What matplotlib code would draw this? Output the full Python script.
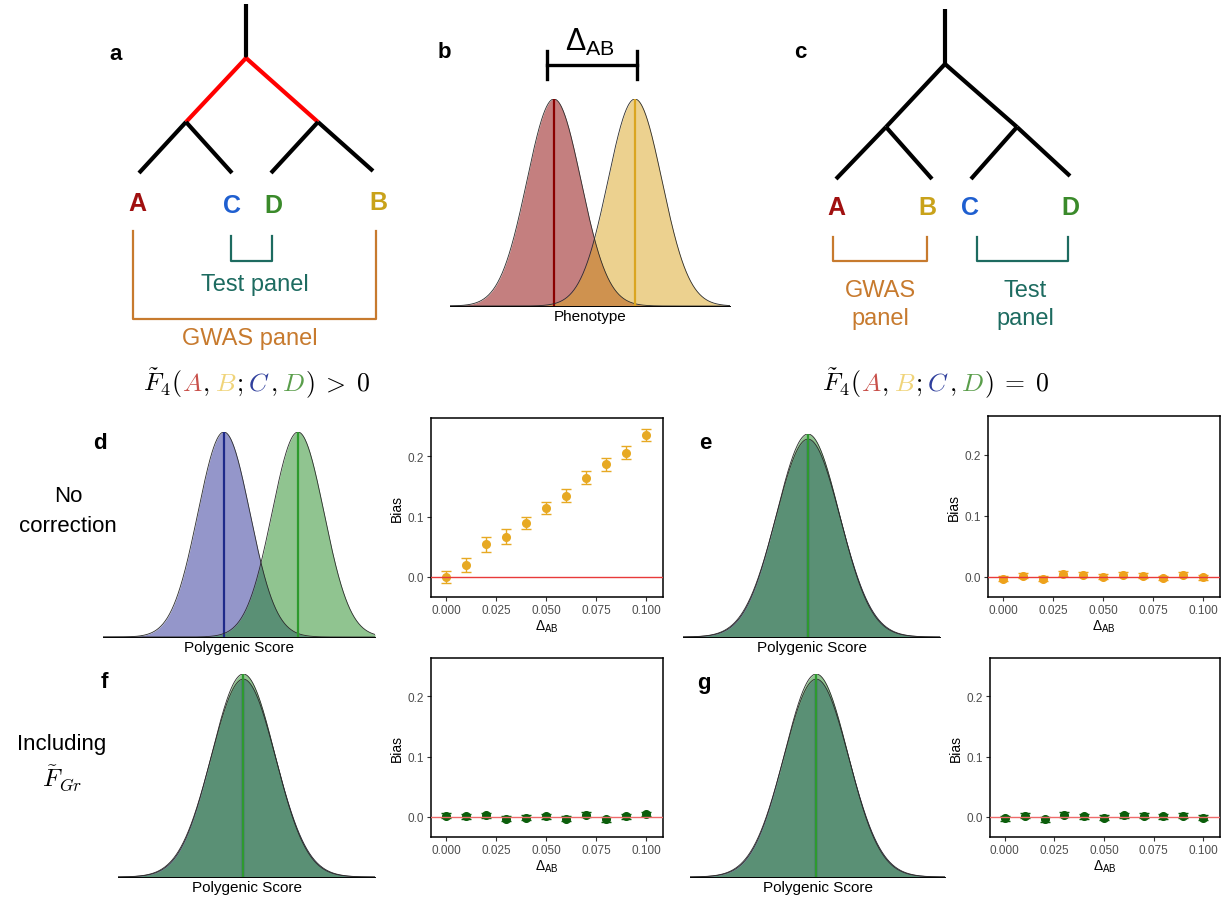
import matplotlib
matplotlib.use("Agg")
import matplotlib.pyplot as plt
import numpy as np

plt.rcParams['font.family'] = ['Liberation Sans', 'DejaVu Sans']
plt.rcParams['mathtext.fontset'] = 'custom'
plt.rcParams['mathtext.rm'] = 'Liberation Sans'
plt.rcParams['mathtext.it'] = 'Liberation Sans:italic'
plt.rcParams['mathtext.bf'] = 'Liberation Sans:bold'

W, H = 1226, 904

# simulated bias vs Delta_AB
delta_ab = [0.0, 0.01, 0.02, 0.03, 0.04, 0.05, 0.06, 0.07, 0.08, 0.09, 0.10]
bias_d = [0.000, 0.020, 0.054, 0.067, 0.090, 0.114, 0.135, 0.165, 0.187, 0.206, 0.236]
err_d = [0.010, 0.011, 0.012, 0.012, 0.010, 0.010, 0.011, 0.011, 0.011, 0.011, 0.010]
bias_e = [-0.003, 0.002, -0.003, 0.005, 0.003, 0.000, 0.003, 0.002, -0.002, 0.003, -0.001]
err_e = [0.004] * 11
bias_f = [0.002, 0.001, 0.003, -0.003, -0.001, 0.001, -0.003, 0.004, -0.004, 0.001, 0.005]
err_f = [0.004] * 11
bias_g = [-0.002, 0.002, -0.004, 0.004, 0.001, -0.001, 0.003, 0.002, 0.001, 0.002, -0.001]
err_g = [0.004] * 11

# distributions: mean, sd (in sd units) and peak height
pheno_mean = [0.0, 3.0]      # A, B
pheno_sd = [1.0, 1.0]
pheno_peak = [1.0, 1.0]
pgs_mean_d = [0.0, 2.85]     # C, D without correction
pgs_sd_d = [1.0, 1.0]
pgs_peak_d = [1.0, 1.0]
pgs_mean_null = [0.0, 0.0]
pgs_sd_null = [1.0, 0.98]
pgs_peak_null = [0.975, 1.0]

# tree diagrams (pixel positions)
tree_a = {'top': (246, 5), 'root': (246, 59), 'L': (186, 123), 'R': (318, 123),
          'l1': (139, 174), 'l2': (232, 174), 'r1': (271, 174), 'r2': (373, 172)}
tree_c = {'top': (945, 10), 'root': (945, 65), 'L': (886, 128), 'R': (1017, 128),
          'l1': (836, 180), 'l2': (932, 180), 'r1': (971, 180), 'r2': (1070, 177)}

col_A, col_B, col_C, col_D = '#a01010', '#c9a21a', '#1f5fd0', '#3a8a2a'
col_gwas, col_test = '#c77a2e', '#1d6b60'

fig = plt.figure(figsize=(12.26, 9.04), dpi=100)
ov = fig.add_axes([0, 0, 1, 1])
ov.set_xlim(0, W)
ov.set_ylim(H, 0)
ov.axis('off')
renderer = fig.canvas.get_renderer()


def rect(x0, y0, x1, y1):
    return [x0 / W, 1 - y1 / H, (x1 - x0) / W, (y1 - y0) / H]


def draw_tree(t, red_top):
    segs = [('top', 'root'), ('root', 'L'), ('root', 'R'), ('L', 'l1'), ('L', 'l2'),
            ('R', 'r1'), ('R', 'r2')]
    for a, b in segs:
        c = 'red' if (red_top and a == 'root') else 'black'
        ov.plot([t[a][0], t[b][0]], [t[a][1], t[b][1]], color=c, lw=3,
                solid_capstyle='butt')


def bracket(x0, x1, y0, y1, color):
    ov.plot([x0, x0, x1, x1], [y0, y1, y1, y0], color=color, lw=1.6)


# panel a
draw_tree(tree_a, True)
for lab, (x, y), c in [('A', (137, 204), col_A), ('C', (232, 206), col_C),
                       ('D', (273, 206), col_D), ('B', (378, 203), col_B)]:
    ov.text(x, y, lab, color=c, fontsize=18, fontweight='bold', ha='center', va='center')
bracket(231, 272, 237, 262, col_test)
ov.text(255, 285, 'Test panel', color=col_test, fontsize=17, ha='center', va='center')
bracket(133, 376, 232, 320, col_gwas)
ov.text(250, 339, 'GWAS panel', color=col_gwas, fontsize=17, ha='center', va='center')

# panel c
draw_tree(tree_c, False)
for lab, (x, y), c in [('A', (836, 208), col_A), ('B', (927, 208), col_B),
                       ('C', (970, 208), col_C), ('D', (1070, 208), col_D)]:
    ov.text(x, y, lab, color=c, fontsize=18, fontweight='bold', ha='center', va='center')
bracket(833, 927, 238, 262, col_gwas)
bracket(977, 1068, 238, 262, col_test)
ov.text(880, 305, 'GWAS\npanel', color=col_gwas, fontsize=17, ha='center', va='center',
        linespacing=1.3)
ov.text(1025, 305, 'Test\npanel', color=col_test, fontsize=17, ha='center', va='center',
        linespacing=1.3)

# panel letters
for lab, x, y in [('a', 116, 55), ('b', 444, 52), ('c', 800, 53), ('d', 100, 444),
                  ('e', 705, 444), ('f', 104, 683), ('g', 704, 684)]:
    ov.text(x, y, lab, fontsize=16, fontweight='bold', ha='center', va='center')

# Delta_AB bracket in b
ov.plot([547, 547], [52, 80], color='black', lw=2.4)
ov.plot([637, 637], [52, 80], color='black', lw=2.4)
ov.plot([547, 637], [66, 66], color='black', lw=2.4)
ov.text(590, 42, r'$\Delta_{\mathrm{AB}}$', fontsize=22, ha='center', va='center')

# row labels
ov.text(68, 497, 'No', fontsize=16, ha='center', va='center')
ov.text(68, 527, 'correction', fontsize=16, ha='center', va='center')
ov.text(62, 745, 'Including', fontsize=16, ha='center', va='center')
ov.text(62, 778, r'$\tilde{F}_{Gr}$', fontsize=18, ha='center', va='center',
        math_fontfamily='cm')


def formula(x, y, rhs):
    # pieces: text, colour, gap after (px)
    parts = [(r'$\tilde{F}_4($', 'black', 0), (r'$A$', '#c8504a', 0), (r'$,$', 'black', 5),
             (r'$B$', '#f0d47a', 0), (r'$;$', 'black', 5), (r'$C$', '#2f3f9c', 0),
             (r'$,$', 'black', 5), (r'$D$', '#5a9e4b', 0), (rhs, 'black', 0)]
    cur = x
    for s, c, gap in parts:
        t = ov.text(cur, y, s, color=c, fontsize=18.5, math_fontfamily='cm',
                    ha='left', va='baseline')
        cur += t.get_window_extent(renderer).width + gap


formula(143, 391, r'$)\;>\;0$')
formula(822, 391, r'$)\;=\;0$')


def density_panel(px, xlim, means, sds, peaks, fills, lines, xlabel):
    ax = fig.add_axes(rect(*px))
    xs = np.linspace(xlim[0], xlim[1], 500)
    for m, s, h, fc, lc in zip(means, sds, peaks, fills, lines):
        ys = h * np.exp(-0.5 * ((xs - m) / s) ** 2)
        ax.fill_between(xs, ys, color=fc, alpha=0.5, lw=0)
        ax.plot(xs, ys, color='#2b2b2b', lw=0.6)
        ax.vlines(m, 0, h, color=lc, lw=1.6)
    ax.set_xlim(xlim)
    ax.set_ylim(0, 1.0)
    for s in ['top', 'right', 'left']:
        ax.spines[s].set_visible(False)
    ax.spines['bottom'].set_linewidth(0.7)
    ax.set_xticks([])
    ax.set_yticks([])
    ax.patch.set_alpha(0)
    ax.set_xlabel(xlabel, fontsize=11, labelpad=2)
    return ax


density_panel((450, 100, 730, 307), (-3.85, 6.52), pheno_mean, pheno_sd, pheno_peak,
              ['#8b0000', '#daa520'], ['#8b0000', '#daa520'], 'Phenotype')
density_panel((103, 433, 375, 638), (-4.65, 5.81), pgs_mean_d, pgs_sd_d, pgs_peak_d,
              ['#2a2e96', '#228b22'], ['#1f2a8a', '#2e9a2e'], 'Polygenic Score')
density_panel((683, 435, 940, 638), (-3.9, 4.12), pgs_mean_null, pgs_sd_null, pgs_peak_null,
              ['#2a2e96', '#228b22'], ['#1f2a8a', '#2e9a2e'], 'Polygenic Score')
density_panel((118, 675, 375, 878), (-3.9, 4.1), pgs_mean_null, pgs_sd_null, pgs_peak_null,
              ['#2a2e96', '#228b22'], ['#1f2a8a', '#2e9a2e'], 'Polygenic Score')
density_panel((690, 675, 945, 878), (-3.9, 3.98), pgs_mean_null, pgs_sd_null, pgs_peak_null,
              ['#2a2e96', '#228b22'], ['#1f2a8a', '#2e9a2e'], 'Polygenic Score')


def bias_panel(px, y, err, color, red):
    ax = fig.add_axes(rect(*px))
    ax.errorbar(delta_ab, y, yerr=err, fmt='o', color=color, ms=5.5, capsize=3.5,
                elinewidth=1, capthick=1, zorder=2)
    ax.axhline(0, color=red, lw=1, zorder=3)
    ax.set_xlim(-0.0075, 0.1085)
    ax.set_ylim(-0.0332, 0.2637)
    ax.set_xticks([0, 0.025, 0.05, 0.075, 0.1])
    ax.set_xticklabels(['0.000', '0.025', '0.050', '0.075', '0.100'])
    ax.set_yticks([0, 0.1, 0.2])
    ax.set_yticklabels(['0.0', '0.1', '0.2'])
    ax.tick_params(direction='out', length=3, width=0.8, color='#333333',
                   labelcolor='#4d4d4d', labelsize=8.5, pad=2)
    for s in ax.spines.values():
        s.set_linewidth(1.1)
    ax.set_ylabel('Bias', fontsize=10, labelpad=3)
    ax.set_xlabel(r'$\Delta_{\mathrm{AB}}$', fontsize=10, labelpad=1)
    return ax


bias_panel((431, 419, 663, 598), bias_d, err_d, '#e7a923', '#e83a3a')
bias_panel((988, 417, 1220, 598), bias_e, err_e, '#eea21c', '#e83a3a')
bias_panel((431, 659, 663, 838), bias_f, err_f, '#0b5e0b', '#ee6a6a')
bias_panel((990, 659, 1220, 838), bias_g, err_g, '#0b5e0b', '#ee6a6a')

fig.savefig('out.png', dpi=100)
